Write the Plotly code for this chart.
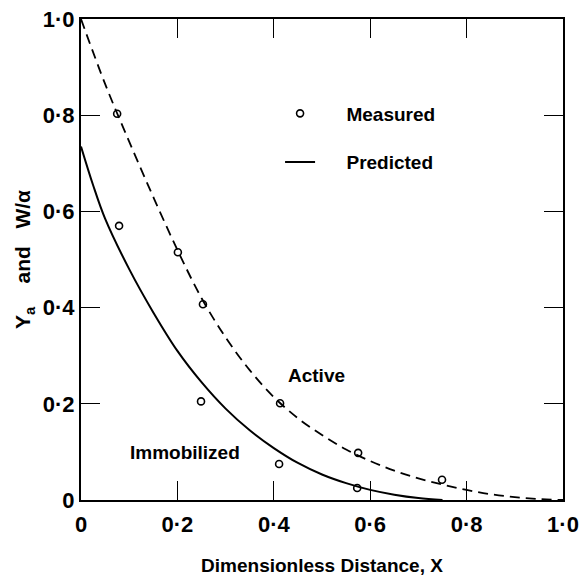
import plotly.graph_objects as go

# Measured points
x_meas_active = [0.075, 0.201, 0.253, 0.413, 0.575, 0.749]
y_meas_active = [0.803, 0.515, 0.407, 0.201, 0.098, 0.042]
x_meas_immob = [0.079, 0.249, 0.411, 0.573]
y_meas_immob = [0.570, 0.205, 0.075, 0.025]

# Predicted curves
x_pred_active = [0, 0.05, 0.1, 0.15, 0.2, 0.25, 0.3, 0.35, 0.4, 0.45, 0.5,
                 0.55, 0.6, 0.65, 0.7, 0.75, 0.8, 0.85, 0.9, 0.95, 1.0]
y_pred_active = [1.0, 0.865, 0.745, 0.63, 0.52, 0.42, 0.338, 0.27, 0.214, 0.17, 0.135,
                 0.105, 0.081, 0.061, 0.045, 0.032, 0.021, 0.012, 0.006, 0.002, 0.0]
x_pred_immob = [0, 0.025, 0.05, 0.1, 0.15, 0.2, 0.25, 0.3, 0.35, 0.4, 0.45,
                0.5, 0.55, 0.6, 0.65, 0.7, 0.75]
y_pred_immob = [0.735, 0.655, 0.585, 0.48, 0.39, 0.31, 0.245, 0.19, 0.145, 0.108, 0.077,
                0.053, 0.035, 0.021, 0.011, 0.004, 0.0]

tick_vals = [0, 0.2, 0.4, 0.6, 0.8, 1.0]
tick_text = ["0", "0·2", "0·4", "0·6", "0·8", "1·0"]

FONT = "Liberation Sans, Arial, sans-serif"

fig = go.Figure()
fig.add_trace(go.Scatter(x=x_pred_active, y=y_pred_active, mode="lines",
                         line=dict(color="black", width=1.8, dash="10px,6px", shape="spline"),
                         showlegend=False))
fig.add_trace(go.Scatter(x=x_pred_immob, y=y_pred_immob, mode="lines",
                         line=dict(color="black", width=2, shape="spline"),
                         name="\u00a0\u00a0\u00a0\u00a0\u00a0Predicted", legendgroup="b", legendrank=2))
fig.add_trace(go.Scatter(x=x_meas_active, y=y_meas_active, mode="markers",
                         marker=dict(symbol="circle-open", size=7, color="black", line=dict(width=1.6)),
                         name="\u00a0\u00a0\u00a0\u00a0\u00a0Measured", legendgroup="a", legendrank=1))
fig.add_trace(go.Scatter(x=x_meas_immob, y=y_meas_immob, mode="markers",
                         marker=dict(symbol="circle-open", size=7, color="black", line=dict(width=1.6)),
                         showlegend=False))

txt_font = dict(family=FONT, size=19, color="black", weight="bold")

fig.add_annotation(x=0.425, y=0.258, text="Active", showarrow=False, xanchor="left",
                   yanchor="middle", font=txt_font)
fig.add_annotation(x=0.098, y=0.098, text="Immobilized", showarrow=False, xanchor="left",
                   yanchor="middle", font=txt_font)

axis_common = dict(range=[0, 1.0], tickvals=tick_vals, ticktext=tick_text,
                   ticks="inside", ticklen=19, tickwidth=1, tickcolor="black",
                   showline=True, linewidth=2, linecolor="black", mirror="ticks",
                   showgrid=False, zeroline=False,
                   tickfont=dict(family=FONT, size=22, color="black", weight="bold"))

fig.update_xaxes(**axis_common, ticklabelstandoff=4,
                 title=dict(text="Dimensionless Distance, X", standoff=22, font=txt_font))
fig.update_yaxes(**axis_common,
                 title=dict(text="Y<sub>a</sub>\u00a0\u00a0\u00a0 and \u00a0\u00a0W/α", standoff=6,
                            font=dict(family=FONT, size=21, color="black", weight="bold")))

fig.update_layout(
    width=581, height=579,
    margin=dict(l=81, r=18, t=19, b=79, autoexpand=False),
    paper_bgcolor="white", plot_bgcolor="white",
    legend=dict(x=0.413, y=0.843, xanchor="left", yanchor="top",
                bgcolor="rgba(0,0,0,0)", tracegroupgap=21,
                font=txt_font),
)

fig.write_html("out.html")
